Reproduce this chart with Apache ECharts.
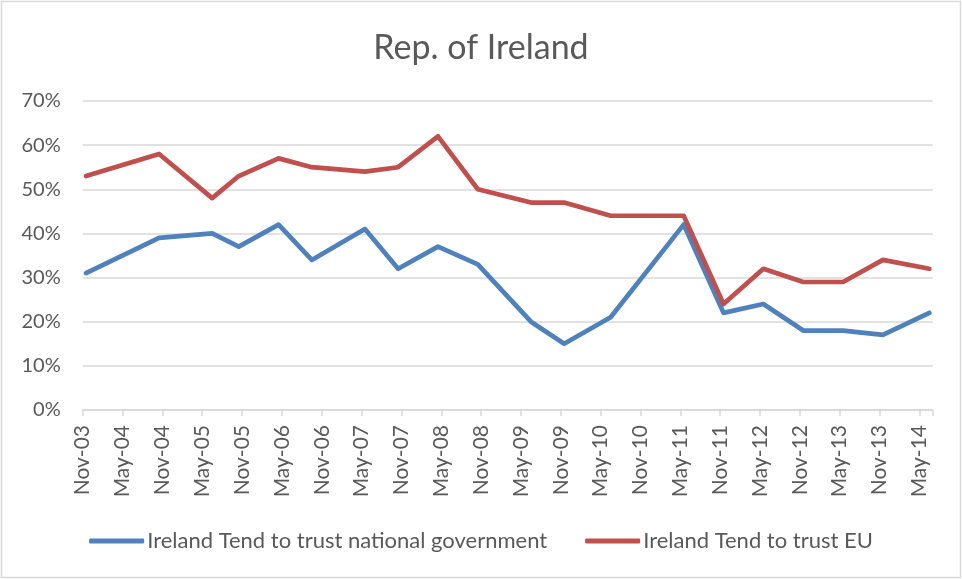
<!DOCTYPE html>
<html>
<head>
<meta charset="utf-8">
<title>Rep. of Ireland</title>
<script src="https://cdn.jsdelivr.net/npm/echarts@6/dist/echarts.min.js"></script>
<style>
  html, body { margin: 0; padding: 0; background: #fff; }
  #chart { width: 962px; height: 579px; }
</style>
</head>
<body>
<div id="chart"></div>
<script>
// survey months (Eurobarometer waves)
const surveyDates = ['2003-11', '2004-10', '2005-06', '2005-10', '2006-04', '2006-09', '2007-05',
  '2007-10', '2008-04', '2008-10', '2009-06', '2009-11', '2010-06', '2011-05', '2011-11',
  '2012-05', '2012-11', '2013-05', '2013-11', '2014-06']

// % tend to trust
const trustGov = [31, 39, 40, 37, 42, 34, 41, 32, 37, 33, 20, 15, 21, 42, 22, 24, 18, 18, 17, 22]
const trustEU = [53, 58, 48, 53, 57, 55, 54, 55, 62, 50, 47, 47, 44, 44, 24, 32, 29, 29, 34, 32]

// x tick labels, one per 6 months from Nov-03
const tickLabels = ['Nov-03', 'May-04', 'Nov-04', 'May-05', 'Nov-05', 'May-06', 'Nov-06', 'May-07',
  'Nov-07', 'May-08', 'Nov-08', 'May-09', 'Nov-09', 'May-10', 'Nov-10', 'May-11', 'Nov-11',
  'May-12', 'Nov-12', 'May-13', 'Nov-13', 'May-14']

const seriesNames = ['Ireland Tend to trust national government', 'Ireland Tend to trust EU']

const TEXT = '#595959'
const GRID_LINE = '#d9d9d9'
const FONT = 'Lato'

// months since Nov-03, plotted in the middle of the month like a date axis
const monthIndex = (d) => {
  const [y, m] = d.split('-').map(Number)
  return (y - 2003) * 12 + (m - 11) + 0.5
}

const toPoints = (values) => values.map((v, i) => [monthIndex(surveyDates[i]), v])

const chart = echarts.init(document.getElementById('chart'), null, { renderer: 'canvas' })

const lineSeries = (name, values, color) => ({
  name: name,
  type: 'line',
  symbol: 'none',
  smooth: false,
  lineStyle: { color: color, width: 4.7, cap: 'round', join: 'round' },
  itemStyle: { color: color },
  data: toPoints(values)
})

chart.setOption({
  backgroundColor: '#fff',
  animation: false,
  textStyle: { fontFamily: FONT },
  title: {
    text: 'Rep. of Ireland',
    left: 'center',
    top: 26,
    textStyle: { fontFamily: FONT, fontSize: 34, fontWeight: 'normal', color: TEXT }
  },
  grid: { left: 82.7, right: 29.3, top: 101, bottom: 169 },
  legend: {
    bottom: 22,
    left: 'center',
    icon: 'roundRect',
    itemWidth: 55,
    itemHeight: 5,
    itemGap: 38,
    data: seriesNames,
    textStyle: { fontFamily: FONT, fontSize: 22, color: TEXT, padding: [0, 0, 0, -2] }
  },
  xAxis: {
    type: 'value',
    min: 0,
    max: 128,
    interval: 6,
    axisLine: { show: true, lineStyle: { color: GRID_LINE, width: 1.5 } },
    axisTick: { show: true, length: 6, lineStyle: { color: GRID_LINE, width: 1.5 } },
    splitLine: { show: false },
    axisLabel: {
      rotate: 90,
      margin: 15,
      fontFamily: FONT,
      fontSize: 21,
      color: TEXT,
      padding: [7, 0, 0, 0],
      showMaxLabel: true,
      formatter: (v) => (v % 6 === 0 ? (tickLabels[v / 6] || '') : '')
    }
  },
  yAxis: {
    type: 'value',
    min: 0,
    max: 70,
    interval: 10,
    axisLine: { show: false },
    axisTick: { show: false },
    splitLine: { lineStyle: { color: GRID_LINE, width: 1.5 } },
    axisLabel: {
      margin: 22,
      fontFamily: FONT,
      fontSize: 20,
      color: TEXT,
      formatter: (v) => v + '%'
    }
  },
  graphic: [{
    type: 'rect',
    shape: { x: 1.5, y: 1.5, width: 959, height: 576 },
    style: { fill: null, stroke: GRID_LINE, lineWidth: 1.5 },
    silent: true
  }],
  series: [
    lineSeries(seriesNames[0], trustGov, '#4F81BD'),
    lineSeries(seriesNames[1], trustEU, '#C0504D')
  ]
})
</script>
</body>
</html>
